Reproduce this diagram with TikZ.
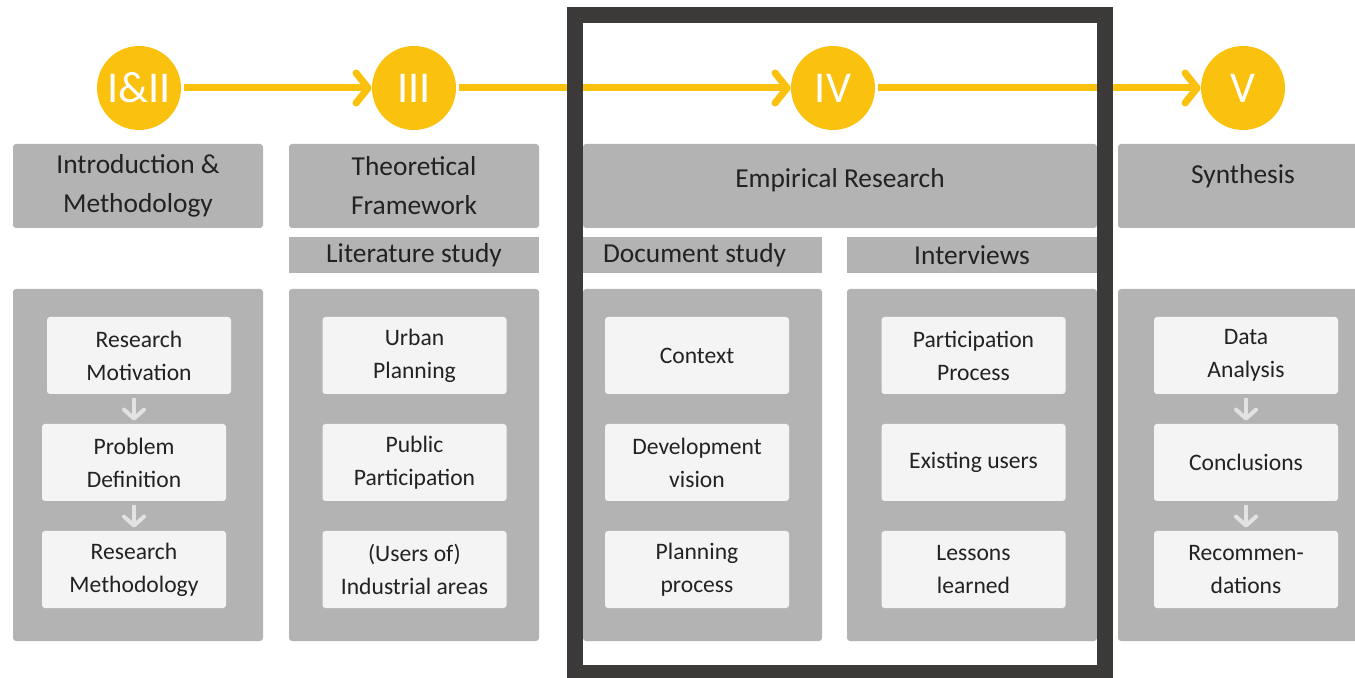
\documentclass[tikz,border=0pt]{standalone}
\usepackage{fontspec}
\setmainfont{Carlito}
\usetikzlibrary{arrows.meta,positioning}
\definecolor{phaseyellow}{HTML}{FBC10F}
\definecolor{boxgray}{HTML}{B3B3B3}
\definecolor{itemwhite}{HTML}{F4F4F4}
\definecolor{framegray}{HTML}{3B3A39}
\definecolor{ink}{HTML}{222222}
\definecolor{arrowgray}{HTML}{E2E2E2}

\begin{document}
\begin{tikzpicture}[x=0.5pt,y=-0.5pt]
\tikzstyle{phase}=[circle, fill=phaseyellow, minimum size=42pt, inner sep=0pt, text=white, font=\fontsize{22}{26}\selectfont]
\tikzstyle{rect}=[rectangle, rounded corners=1.5pt, fill=boxgray, text=ink, align=center, inner sep=0pt, font=\fontsize{13.7}{19.5}\selectfont]
\tikzstyle{head}=[rect, minimum width=125pt, minimum height=42pt]
\tikzstyle{sub}=[rect, rounded corners=0pt, minimum height=18pt]
\tikzstyle{panel}=[rect, minimum width=125pt, minimum height=176pt]
\tikzstyle{item}=[rect, fill=itemwhite, minimum width=92pt, minimum height=38.5pt, node distance=53.5pt, font=\fontsize{11.8}{16.5}\selectfont]
\tikzstyle{connect}=[-{Straight Barb[length=6pt,width=15pt,round]}, line width=3.5pt, phaseyellow, shorten <=1.5pt]
\tikzstyle{flow}=[-{Straight Barb[length=4.5pt,width=10pt,round]}, line width=2pt, arrowgray, shorten <=2pt, shorten >=1.5pt]

  \useasboundingbox (0,0) rectangle (1355,678);

  % phases
  \node[phase] (p12) at (139,88)  {I\&II};
  \node[phase] (p3)  at (414,88)  {III};
  \node[phase] (p4)  at (833,88)  {IV};
  \node[phase] (p5)  at (1243,88) {V};

  \path (p12) edge [connect] (p3);
  \path (p3)  edge [connect] (p4);
  \path (p4)  edge [connect] (p5);

  % headers
  \node[head] (intro) at (138,186)  {Introduction \&\\Methodology};
  \node[head] (theo)  at (414,186)  {Theoretical\\Framework};
  \node[head, minimum width=257pt, text depth=8.5pt] (emp) at (840,186) {Empirical Research};
  \node[head, text depth=12.5pt] (syn) at (1243,186) {Synthesis};

  \node[sub, minimum width=125pt]   (lit)  at (414,255)   {Literature study};
  \node[sub, minimum width=119.5pt, align=flush left, text width=99.5pt, inner xsep=10pt] (doc) at (702.5,255) {Document study};
  \node[sub, minimum width=125pt]   (intv) at (972,255)   {Interviews};

  % panels
  \node[panel] (pintro) at (138,465)  {};
  \node[panel] (ptheo)  at (414,465)  {};
  \node[panel, minimum width=119.5pt] (pdoc) at (702.5,465) {};
  \node[panel] (pintv)  at (972,465)  {};
  \node[panel] (psyn)   at (1243,465) {};

  \node[item] (rmot)  at (139,355.5)                {Research\\Motivation};
  \node[item] (pdef)  [below of=rmot, xshift=-2.5pt] {Problem\\Definition};
  \node[item] (rmeth) [below of=pdef]                {Research\\Methodology};

  \node[item] (urban) at (414.5,355.5)  {Urban\\Planning};
  \node[item] (pubp)  [below of=urban]  {Public\\Participation};
  \node[item] (indus) [below of=pubp]   {(Users of)\\Industrial areas};

  \node[item] (cont)  at (697,355.5)    {Context};
  \node[item] (devv)  [below of=cont]   {Development\\vision};
  \node[item] (planp) [below of=devv]   {Planning\\process};

  \node[item] (partp) at (973.5,355.5)  {Participation\\Process};
  \node[item] (exus)  [below of=partp]  {Existing users};
  \node[item] (lesl)  [below of=exus]   {Lessons\\learned};

  \node[item] (data)  at (1246,355.5)   {Data\\Analysis};
  \node[item] (concl) [below of=data]   {Conclusions};
  \node[item] (recom) [below of=concl]  {Recommen-\\dations};

  \path (pdef.north |- rmot.south) edge [flow] (pdef.north);
  \path (rmeth.north |- pdef.south) edge [flow] (rmeth.north);
  \path (data.south) edge [flow] (concl.north);
  \path (concl.south) edge [flow] (recom.north);

  % frame round chapter IV
  \draw[framegray, line width=8pt] (575,15) rectangle (1105,673);

\end{tikzpicture}
\end{document}
